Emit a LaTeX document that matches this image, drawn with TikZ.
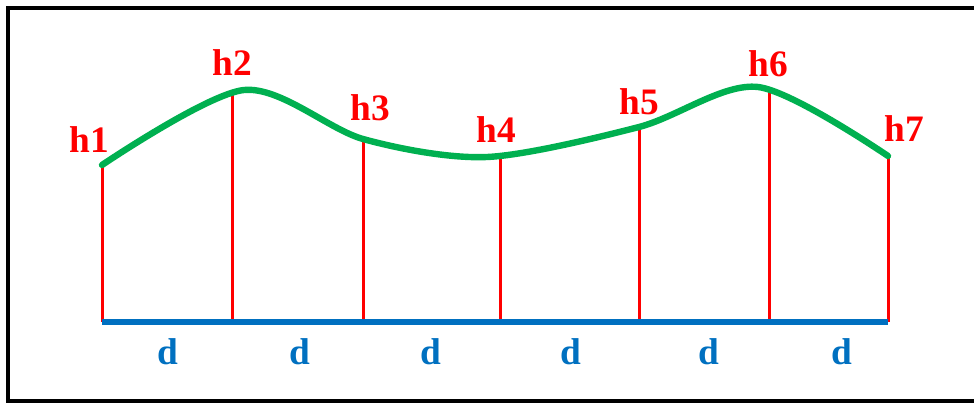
\documentclass[tikz,border=0pt]{standalone}
\usepackage{fontspec}
\setmainfont{Liberation Serif}
\definecolor{curvegreen}{RGB}{0,176,80}
\definecolor{baseblue}{RGB}{0,112,192}

\begin{document}
\begin{tikzpicture}[x=0.75pt, y=-0.75pt,
    hlabel/.style={text=red, font=\fontsize{28}{30}\selectfont\bfseries, inner sep=0pt},
    dlabel/.style={text=baseblue, font=\fontsize{28}{30}\selectfont\bfseries, inner sep=0pt},
    hline/.style={red, line width=2.25pt}]
    % Cadre
    \clip (0,0) rectangle (974,403);
    \draw[line width=3pt] (8,8) rectangle (990,401);

    % Points de la base et des hauteurs
    \coordinate (b1) at (102,322);
    \coordinate (b2) at (232,322);
    \coordinate (b3) at (363,322);
    \coordinate (b4) at (500,322);
    \coordinate (b5) at (639,322);
    \coordinate (b6) at (769,322);
    \coordinate (b7) at (888,322);
    \coordinate (t1) at (102,165);
    \coordinate (t2) at (232,93);
    \coordinate (t3) at (363,139);
    \coordinate (t4) at (500,158);
    \coordinate (t5) at (639,128);
    \coordinate (t6) at (769,89);
    \coordinate (t7) at (888,156);

    % Hauteurs
    \draw[hline] (b1) -- (t1);
    \draw[hline] (b2) -- (t2);
    \draw[hline] (b3) -- (t3);
    \draw[hline] (b4) -- (t4);
    \draw[hline] (b5) -- (t5);
    \draw[hline] (b6) -- (t6);
    \draw[hline] (b7) -- (t7);

    % Base
    \draw[baseblue, line width=4pt] (b1) -- (b7);

    % Courbe
    \draw[curvegreen, line width=4.8pt, line cap=round]
        plot[smooth, tension=0.5] coordinates {(102,165) (244,90) (363,139) (487,157) (639,127) (758,87) (888,156)};

    % Etiquettes
    \node[hlabel] (h1) at (89,140) {h1};
    \node[hlabel] (h2) at (232,63) {h2};
    \node[hlabel] (h3) at (370,108) {h3};
    \node[hlabel] (h4) at (496,130) {h4};
    \node[hlabel] (h5) at (639,102) {h5};
    \node[hlabel] (h6) at (768,64) {h6};
    \node[hlabel] (h7) at (904,129) {h7};
    \node[dlabel] (d1) at (168,352) {d};
    \node[dlabel] (d2) at (300,352) {d};
    \node[dlabel] (d3) at (431,352) {d};
    \node[dlabel] (d4) at (571,352) {d};
    \node[dlabel] (d5) at (709,352) {d};
    \node[dlabel] (d6) at (842,352) {d};
\end{tikzpicture}
\end{document}
